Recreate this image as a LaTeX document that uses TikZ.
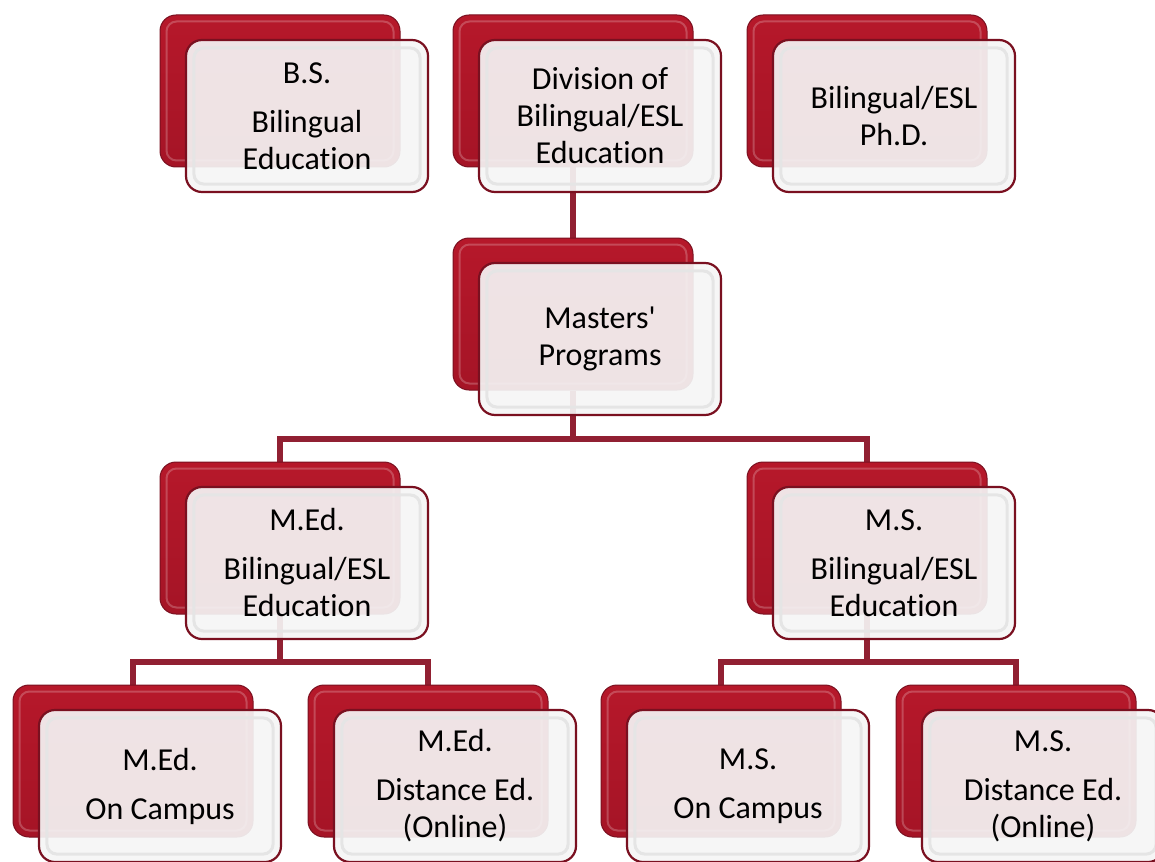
\documentclass[tikz,border=0pt]{standalone}
\usepackage{fontspec}
\newfontfamily\boxfont{Carlito}[Ligatures={TeXOff,CommonOff}]
\usetikzlibrary{calc,positioning}
\pgfdeclarelayer{background}
\pgfsetlayers{background,main}
\definecolor{cRedTop}{RGB}{182,24,42}
\definecolor{cRedBot}{RGB}{165,20,38}
\definecolor{cRedEdge}{RGB}{122,16,32}
\definecolor{cLink}{RGB}{145,32,50}
\tikzset{
  backbox/.style={rectangle,rounded corners=16pt,minimum width=240pt,minimum height=152pt,
    top color=cRedTop,bottom color=cRedBot,draw=cRedEdge,line width=1pt},
  frontbox/.style={rectangle,rounded corners=16pt,minimum width=242pt,minimum height=152pt,
    fill=white!96!black,fill opacity=0.92,text opacity=1,draw=cRedEdge,line width=2.2pt,
    align=center,font=\boxfont\fontsize{32}{37}\selectfont},
  bevel/.style={rounded corners=10pt,draw=black!10,line width=3pt},
  redbevel/.style={rounded corners=10pt,draw=white,draw opacity=0.22,line width=2pt},
  link/.style={draw=cLink,line width=6pt},
}
\begin{document}
\begin{tikzpicture}[x=1pt,y=-1pt]
\useasboundingbox (0,0) rectangle (1155,861);
%紅色底框的中心
\coordinate (cBSPt) at (280,91);
\coordinate (cDivPt) at (573,91);
\coordinate (cPhDPt) at (867,91);
\coordinate (cMastPt) at (573,314);
\coordinate (cMEdPt) at (280,538);
\coordinate (cMSPt) at (867,538);
\coordinate (cMEdCampPt) at (133,761);
\coordinate (cMEdDistPt) at (428,761);
\coordinate (cMSCampPt) at (721,761);
\coordinate (cMSDistPt) at (1016,761);

\foreach \n/\p/\t in {nBS/cBSPt/{B.S.\\[12pt]Bilingual\\Education},
    nDiv/cDivPt/{Division of\\Bilingual/ESL\\Education},
    nPhD/cPhDPt/{Bilingual/ESL\\Ph.D.},
    nMast/cMastPt/{Masters'\\Programs},
    nMEd/cMEdPt/{M.Ed.\\[12pt]Bilingual/ESL\\Education},
    nMS/cMSPt/{M.S.\\[12pt]Bilingual/ESL\\Education},
    nMEdCamp/cMEdCampPt/{M.Ed.\\[12pt]On Campus},
    nMEdDist/cMEdDistPt/{M.Ed.\\[12pt]Distance Ed.\\(Online)},
    nMSCamp/cMSCampPt/{M.S.\\[12pt]On Campus},
    nMSDist/cMSDistPt/{M.S.\\[12pt]Distance Ed.\\(Online)}}
{
    \node[backbox] (\n Back) at (\p) {};
    \draw[redbevel] ([shift={(7,7)}]\n Back.north west) rectangle ([shift={(-7,-7)}]\n Back.south east);
    \node[frontbox] (\n) at ($(\p)+(27,25)$) {\t};
    \draw[bevel] ([shift={(9,9)}]\n.north west) rectangle ([shift={(-9,-9)}]\n.south east);
};

%連接線
\begin{pgfonlayer}{background}
\draw[link] (nDivBack.south) -- (nMastBack.north);
\path (nMast.south) -- (nMEdBack.north) coordinate[pos=.5] (cBarA);
\draw[link] (nMastBack.south) -- (nMastBack.south |- cBarA);
\draw[link] (nMEdBack.north) |- (cBarA) -| (nMSBack.north);
\path (nMEd.south) -- (nMEdCampBack.north) coordinate[pos=.5] (cBarB);
\draw[link] (nMEdBack.south) -- (nMEdBack.south |- cBarB);
\draw[link] (nMEdCampBack.north) |- (cBarB) -| (nMEdDistBack.north);
\draw[link] (nMSBack.south) -- (nMSBack.south |- cBarB);
\draw[link] (nMSCampBack.north) |- (nMSBack.south |- cBarB) -| (nMSDistBack.north);
\end{pgfonlayer}
\end{tikzpicture}
\end{document}
